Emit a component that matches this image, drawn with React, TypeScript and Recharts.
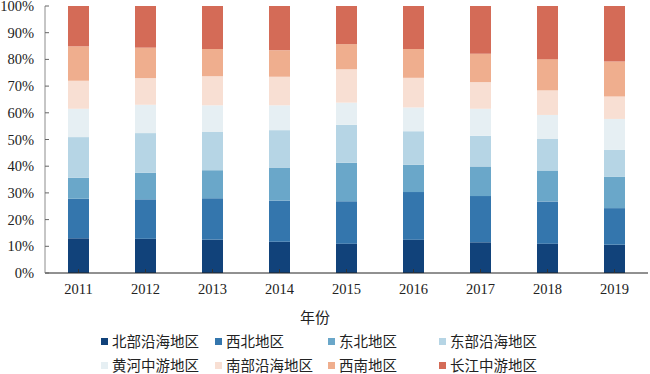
import React from 'react';
import { BarChart, Bar, XAxis, YAxis } from 'recharts';

const years = ['2011', '2012', '2013', '2014', '2015', '2016', '2017', '2018', '2019'];
const seriesNames = ['北部沿海地区', '西北地区', '东北地区', '东部沿海地区', '黄河中游地区', '南部沿海地区', '西南地区', '长江中游地区'];
const colors = ['#11427a', '#3476ad', '#6aa7c9', '#b6d5e5', '#e6eff3', '#f8dfd3', '#efae8e', '#d46b57'];

const beibuyanhai = [13.0, 12.8, 12.5, 11.7, 11.0, 12.5, 11.5, 11.0, 10.6];
const xibei = [14.8, 14.8, 15.5, 15.4, 15.9, 17.8, 17.3, 15.8, 13.7];
const dongbei = [7.9, 9.9, 10.5, 12.4, 14.4, 10.2, 11.1, 11.6, 11.8];
const dongbuyanhai = [15.2, 14.9, 14.3, 14.0, 14.2, 12.6, 11.5, 11.8, 10.1];
const huanghe = [10.6, 10.6, 10.0, 9.3, 8.3, 8.9, 10.1, 9.0, 11.5];
const nanbuyanhai = [10.5, 10.0, 10.9, 10.7, 12.5, 11.1, 10.0, 9.2, 8.4];
const xinan = [12.9, 11.4, 10.2, 9.9, 9.4, 10.8, 10.6, 11.7, 13.1];
const changjiang = [15.1, 15.6, 16.1, 16.6, 14.3, 16.1, 17.9, 19.9, 20.8];

const seriesValues = [beibuyanhai, xibei, dongbei, dongbuyanhai, huanghe, nanbuyanhai, xinan, changjiang];
const yTicks = [0, 0.1, 0.2, 0.3, 0.4, 0.5, 0.6, 0.7, 0.8, 0.9, 1];

const data = years.map((y, i) => {
  const row: Record<string, string | number> = { year: y };
  seriesNames.forEach((n, k) => {
    row[n] = seriesValues[k][i];
  });
  return row;
});

const SERIF = '"Liberation Serif", "Times New Roman", serif';
const CJK = '"Noto Sans CJK SC", sans-serif';

const XTick = (props: any) => {
  const { x, y, payload } = props;
  return (
    <g>
      <line x1={x} y1={y} x2={x} y2={y - 4} stroke="#333" strokeWidth={1} />
      <text x={x} y={y + 21} textAnchor="middle" fontFamily={SERIF} fontSize={14.5} fill="#222">
        {payload.value}
      </text>
    </g>
  );
};

const YTick = (props: any) => {
  const { x, y, payload } = props;
  return (
    <g>
      <line x1={x} y1={y} x2={x + 4} y2={y} stroke="#666" strokeWidth={1} />
      <text x={x - 11} y={y + 5} textAnchor="end" fontFamily={SERIF} fontSize={14.5} fill="#222">
        {`${Math.round(payload.value * 100)}%`}
      </text>
    </g>
  );
};

const legendCols = [105, 219, 332, 443];

export default function App() {
  return (
    <div style={{ position: 'absolute', left: 0, top: 0, width: 650, height: 374, background: '#fff', overflow: 'hidden' }}>
      <BarChart
        width={650}
        height={374}
        data={data}
        stackOffset="expand"
        margin={{ top: 6, right: 2, bottom: 71, left: 0 }}
        barSize={21}
      >
        <XAxis
          dataKey="year"
          tickSize={0}
          tickMargin={0}
          height={30}
          tick={<XTick />}
          axisLine={{ stroke: '#222', strokeWidth: 1 }}
          tickLine={false}
          interval={0}
        />
        <YAxis
          width={45}
          domain={[0, 1]}
          ticks={yTicks}
          tickSize={0}
          tickMargin={0}
          tick={<YTick />}
          axisLine={{ stroke: '#8c8c8c', strokeWidth: 1 }}
          tickLine={false}
          interval={0}
        />
        {seriesNames.map((n, k) => (
          <Bar key={n} dataKey={n} stackId="a" fill={colors[k]} isAnimationActive={false} />
        ))}
      </BarChart>
      <div
        style={{
          position: 'absolute',
          left: 0,
          width: 630,
          top: 306,
          textAlign: 'center',
          fontFamily: CJK,
          fontSize: 15,
          color: '#222',
          lineHeight: '22px',
        }}
      >
        年份
      </div>
      {seriesNames.map((n, k) => {
        const col = k % 4;
        const row = Math.floor(k / 4);
        return (
          <div
            key={n}
            style={{
              position: 'absolute',
              left: legendCols[col] - 4,
              top: 333 + row * 24,
              height: 16,
              lineHeight: '16px',
              display: 'flex',
              alignItems: 'center',
              fontFamily: CJK,
              fontSize: 14.5,
              color: '#222',
              whiteSpace: 'nowrap',
            }}
          >
            <span style={{ display: 'inline-block', width: 7, height: 7, background: colors[k], marginRight: 4 }} />
            <span>{n}</span>
          </div>
        );
      })}
    </div>
  );
}
